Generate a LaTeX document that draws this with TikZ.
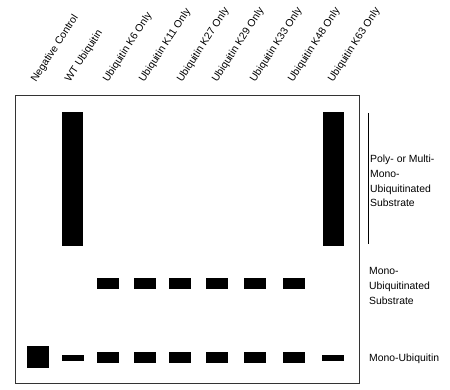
\documentclass[tikz,border=0pt]{standalone}
\usepackage{fontspec}
\setmainfont{Liberation Sans}
\usetikzlibrary{positioning}

\begin{document}
\begin{tikzpicture}[x=1pt, y=-1pt,
  band/.style={fill=black},
  lanelabel/.style={anchor=base west, rotate=57, inner sep=0pt, font=\fontsize{10.4}{12}\selectfont},
  sidelabel/.style={anchor=west, align=left, inner sep=0pt, font=\fontsize{10.4}{14.6}\selectfont}
]
\useasboundingbox (0,0) rectangle (450,390);
\draw[line width=0.9pt, black!80] (15,95) rectangle (359,383);

% lane labels
\foreach \x/\txt [count=\i] in {36/Negative Control, 70/WT Ubiquitin, 108/Ubiquitin K6 Only,
    144/Ubiquitin K11 Only, 182/Ubiquitin K27 Only, 217/Ubiquitin K29 Only,
    255/Ubiquitin K33 Only, 293/Ubiquitin K48 Only, 333/Ubiquitin K63 Only}
  \node[lanelabel] (lane\i) at (\x,83) {\txt};

% smears
\fill[band] (62,112) rectangle (83,246);
\fill[band] (323,112) rectangle (344,246);

% mono-ubiquitinated substrate and mono-ubiquitin
\foreach \x in {108,144.5,180,216.5,255,294} {
  \fill[band] (\x-11,278) rectangle (\x+11,289);
  \fill[band] (\x-11,352) rectangle (\x+11,363);
}
\fill[band] (27,346) rectangle (49,368);
\fill[band] (62,355) rectangle (84,361);
\fill[band] (322,355) rectangle (344,361);

% side labels
\draw[line width=0.8pt] (368,113) -- (368,244);
\node[sidelabel] (poly) at (370,181) {Poly- or Multi-\\Mono-\\Ubiquitinated\\Substrate};
\node[sidelabel] (monosub) at (369,286) {Mono-\\Ubiquitinated\\Substrate};
\node[sidelabel] (monoub) at (369,359) {Mono-Ubiquitin};
\end{tikzpicture}
\end{document}
